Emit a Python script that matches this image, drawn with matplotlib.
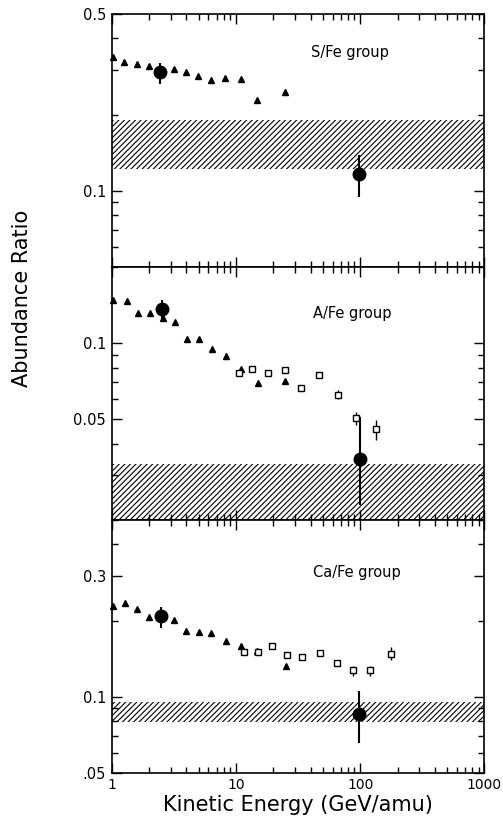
import matplotlib.pyplot as plt
from matplotlib.ticker import FixedLocator, FixedFormatter, LogLocator, NullFormatter

# S/Fe group
s_tri_e = [1.02, 1.26, 1.59, 1.99, 3.16, 3.97, 4.99, 6.30, 8.16, 10.9, 14.9, 24.9]
s_tri_r = [0.337, 0.323, 0.318, 0.311, 0.302, 0.294, 0.284, 0.275, 0.279, 0.277, 0.229, 0.246]
s_sq_e = []
s_sq_r = []
s_sq_lo = []
s_sq_hi = []
s_big_e = [2.46, 98.0]
s_big_r = [0.295, 0.116]
s_big_lo = [0.265, 0.0942]
s_big_hi = [0.320, 0.139]
s_band = [0.122, 0.191]

# A/Fe group
a_tri_e = [1.02, 1.32, 1.64, 2.05, 2.57, 3.23, 4.05, 5.07, 6.41, 8.33, 10.98, 15.2, 25.0]
a_tri_r = [0.1476, 0.146, 0.1316, 0.1316, 0.1256, 0.1215, 0.1037, 0.1037, 0.0947, 0.0890, 0.0793, 0.0698, 0.0709]
a_sq_e = [10.5, 13.6, 18.05, 24.7, 33.4, 46.5, 66.6, 93.4, 135.0]
a_sq_r = [0.076, 0.0791, 0.076, 0.0779, 0.0663, 0.0748, 0.0625, 0.0505, 0.0457]
a_sq_lo = [0.076, 0.0791, 0.076, 0.0779, 0.0663, 0.0748, 0.0599, 0.0474, 0.0414]
a_sq_hi = [0.076, 0.0791, 0.076, 0.0779, 0.0663, 0.0748, 0.0653, 0.0536, 0.0496]
a_big_e = [2.54, 99.3]
a_big_r = [0.1368, 0.0347]
a_big_lo = [0.1226, 0.0228]
a_big_hi = [0.1476, 0.0512]
a_band = [0.019, 0.0334]

# Ca/Fe group
c_tri_e = [1.02, 1.28, 1.61, 2.01, 3.17, 3.98, 5.03, 6.34, 8.27, 10.9, 14.8, 25.1]
c_tri_r = [0.228, 0.2346, 0.2215, 0.2071, 0.2016, 0.1811, 0.180, 0.1784, 0.1658, 0.158, 0.1512, 0.1327]
c_sq_e = [11.65, 15.0, 19.7, 25.7, 34.2, 47.3, 65.5, 87.4, 119.6, 177.0]
c_sq_r = [0.150, 0.150, 0.159, 0.1458, 0.1437, 0.1482, 0.1364, 0.1271, 0.1271, 0.1477]
c_sq_lo = [0.150, 0.150, 0.159, 0.1458, 0.1437, 0.1482, 0.1364, 0.1211, 0.1211, 0.1393]
c_sq_hi = [0.150, 0.150, 0.159, 0.1458, 0.1437, 0.1482, 0.1364, 0.132, 0.132, 0.1574]
c_big_e = [2.50, 98.7]
c_big_r = [0.2084, 0.0855]
c_big_lo = [0.1874, 0.0654]
c_big_hi = [0.2266, 0.1049]
c_band = [0.0793, 0.0957]

panels = [
    ("S/Fe group", (0.05, 0.5), [0.1, 0.5], ["0.1", "0.5"], (0.535, 0.849),
     s_tri_e, s_tri_r, s_sq_e, s_sq_r, s_sq_lo, s_sq_hi,
     s_big_e, s_big_r, s_big_lo, s_big_hi, s_band),
    ("A/Fe group", (0.02, 0.2), [0.05, 0.1], ["0.05", "0.1"], (0.539, 0.816),
     a_tri_e, a_tri_r, a_sq_e, a_sq_r, a_sq_lo, a_sq_hi,
     a_big_e, a_big_r, a_big_lo, a_big_hi, a_band),
    ("Ca/Fe group", (0.05, 0.5), [0.05, 0.1, 0.3], [".05", "0.1", "0.3"], (0.539, 0.7925),
     c_tri_e, c_tri_r, c_sq_e, c_sq_r, c_sq_lo, c_sq_hi,
     c_big_e, c_big_r, c_big_lo, c_big_hi, c_band),
]

plt.rcParams['font.family'] = ['DejaVu Sans']
plt.rcParams['hatch.linewidth'] = 0.8

fig, axes = plt.subplots(3, 1, figsize=(5.03, 8.17), dpi=100, sharex=True)
fig.subplots_adjust(left=0.222, right=0.963, top=0.983, bottom=0.054, hspace=0)

for ax, p in zip(axes, panels):
    (name, ylim, yt, ytl, tpos, tri_e, tri_r, sq_e, sq_r, sq_lo, sq_hi,
     big_e, big_r, big_lo, big_hi, band) = p
    ax.set_xscale('log')
    ax.set_yscale('log')
    ax.set_xlim(1, 1000)
    ax.set_ylim(*ylim)

    # hatched band
    ax.fill_between([1, 1000], band[0], band[1], facecolor='none',
                    edgecolor='black', hatch='//////', linewidth=0)

    ax.plot(tri_e, tri_r, '^', color='black', ms=4, clip_on=False, zorder=3)
    if sq_e:
        ax.vlines(sq_e, sq_lo, sq_hi, color='black', lw=1.0, zorder=3)
        ax.plot(sq_e, sq_r, 's', mfc='white', mec='black', mew=1.0, ms=4, zorder=4)
    ax.vlines(big_e, big_lo, big_hi, color='black', lw=1.5, zorder=4)
    ax.plot(big_e, big_r, 'o', color='black', ms=9, zorder=5)

    ax.text(tpos[0], tpos[1], name, transform=ax.transAxes, fontsize=10.5,
            ha='left', va='center')

    ax.yaxis.set_major_locator(FixedLocator(yt))
    ax.yaxis.set_major_formatter(FixedFormatter(ytl))
    ax.yaxis.set_minor_locator(LogLocator(base=10, subs=range(2, 10)))
    ax.yaxis.set_minor_formatter(NullFormatter())
    ax.xaxis.set_major_locator(FixedLocator([1, 10, 100, 1000]))
    ax.xaxis.set_major_formatter(FixedFormatter(["1", "10", "100", "1000"]))
    ax.xaxis.set_minor_locator(LogLocator(base=10, subs=range(2, 10)))
    ax.xaxis.set_minor_formatter(NullFormatter())
    ax.tick_params(which='both', direction='in', top=True, right=True,
                   labelsize=10.5, width=1.0, pad=4)
    ax.tick_params(axis='x', labelsize=10)
    ax.tick_params(which='major', length=7)
    ax.tick_params(which='minor', length=4)
    for s in ax.spines.values():
        s.set_linewidth(1.2)

axes[-1].set_xlabel("Kinetic Energy (GeV/amu)", fontsize=15, labelpad=2)
fig.text(0.044, 0.635, "Abundance Ratio", rotation=90, fontsize=15,
         ha='center', va='center')

fig.savefig("out.png", dpi=100)
